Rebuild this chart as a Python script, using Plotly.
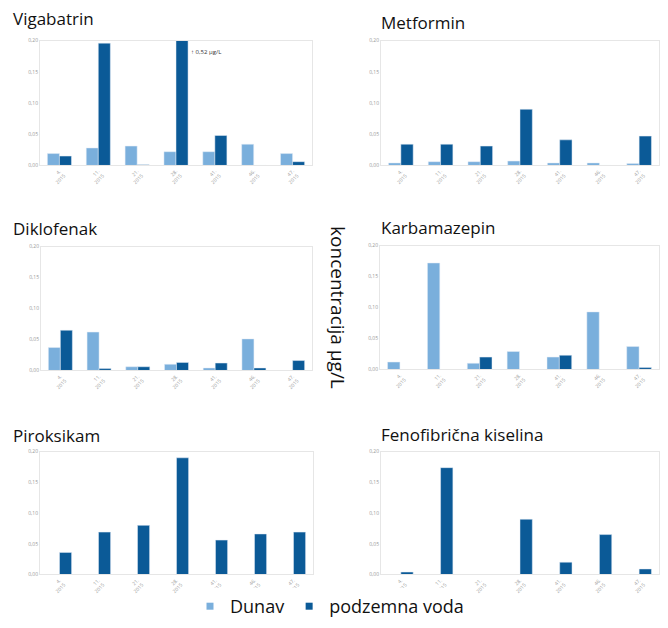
import plotly.graph_objects as go
from plotly.subplots import make_subplots

categories = ["4.<br>2015", "11.<br>2015", "21.<br>2015", "28.<br>2015", "41.<br>2015", "46.<br>2015", "47.<br>2015"]
tick_vals = [0.0, 0.05, 0.10, 0.15, 0.20]
tick_text = ["0,00", "0,05", "0,10", "0,15", "0,20"]

titles = ["Vigabatrin", "Metformin", "Diklofenak", "Karbamazepin", "Piroksikam", "Fenofibrična kiselina"]

dunav = {
    "Vigabatrin": [0.019, 0.028, 0.031, 0.022, 0.022, 0.034, 0.019],
    "Metformin": [0.004, 0.006, 0.006, 0.007, 0.004, 0.004, 0.003],
    "Diklofenak": [0.037, 0.062, 0.006, 0.010, 0.004, 0.051, 0.0],
    "Karbamazepin": [0.012, 0.172, 0.010, 0.029, 0.020, 0.093, 0.037],
    "Piroksikam": [0, 0, 0, 0, 0, 0, 0],
    "Fenofibrična kiselina": [0, 0, 0, 0, 0, 0, 0],
}
podzemna = {
    "Vigabatrin": [0.015, 0.196, 0.001, 0.52, 0.048, 0.0, 0.006],
    "Metformin": [0.034, 0.034, 0.031, 0.090, 0.041, 0.0, 0.047],
    "Diklofenak": [0.065, 0.003, 0.006, 0.013, 0.012, 0.004, 0.016],
    "Karbamazepin": [0.0, 0.0, 0.020, 0.0, 0.023, 0.0, 0.003],
    "Piroksikam": [0.036, 0.069, 0.080, 0.190, 0.056, 0.066, 0.069],
    "Fenofibrična kiselina": [0.004, 0.174, 0.0, 0.090, 0.020, 0.065, 0.009],
}

C_DUNAV = "#7aafdc"
C_POD = "#0b5a97"
W, H = 668, 628

fig = make_subplots(rows=3, cols=2)

# pixel boxes of plot areas: (x0, x1, ytop, ybottom)
boxes = [(40, 312, 38, 164), (381, 659, 38, 164),
         (41, 312, 246, 371), (380, 659, 245, 370),
         (40, 313, 453, 577), (381, 659, 453, 577)]
title_pos = [(11, 16), (379, 20), (11, 228), (379, 227), (11, 437), (379, 436)]

for i, name in enumerate(titles):
    r, c = i // 2 + 1, i % 2 + 1
    fig.add_trace(go.Bar(x=categories, y=dunav[name], name="Dunav", marker_color=C_DUNAV,
                         showlegend=False), row=r, col=c)
    fig.add_trace(go.Bar(x=categories, y=podzemna[name], name="podzemna voda", marker_color=C_POD,
                         showlegend=False), row=r, col=c)
    x0, x1, yt, yb = boxes[i]
    ax = "" if i == 0 else str(i + 1)
    fig.layout["xaxis" + ax].domain = [x0 / W, x1 / W]
    fig.layout["yaxis" + ax].domain = [1 - yb / H, 1 - yt / H]
    tx, ty = title_pos[i]
    fig.add_annotation(text=name, xref="paper", yref="paper", x=tx / W, y=1 - ty / H,
                       xanchor="left", yanchor="middle", showarrow=False,
                       font=dict(size=17, color="#111", family="Open Sans"))

# legend-only entries with small square symbols
for nm, col in [("Dunav", C_DUNAV), ("podzemna voda", C_POD)]:
    fig.add_trace(go.Scatter(x=[None], y=[None], mode="markers", name=nm,
                             marker=dict(symbol="square", size=7, color=col), showlegend=True),
                  row=1, col=1)

fig.update_xaxes(showgrid=False, tickangle=-45, tickfont=dict(size=5, color="#999"),
                 showline=True, linecolor="#e6e6e6", mirror=True, ticks="")
fig.update_yaxes(range=[0, 0.2], tickvals=tick_vals, ticktext=tick_text, showgrid=False,
                 zeroline=False, tickfont=dict(size=5, color="#999"),
                 showline=True, linecolor="#e6e6e6", mirror=True, ticks="")

fig.add_annotation(text="↑ 0,52 µg/L", xref="x", yref="y", x=3, y=0.181, xshift=13,
                   xanchor="left", yanchor="middle", showarrow=False,
                   font=dict(size=6, color="#333", family="Open Sans"))

fig.add_annotation(text="koncentracija µg/L", xref="paper", yref="paper", x=338 / W, y=1 - 307 / H,
                   textangle=90, showarrow=False, xanchor="center", yanchor="middle",
                   font=dict(size=19, color="#111", family="Open Sans"))

fig.update_layout(width=W, height=H, margin=dict(l=0, r=0, t=0, b=0),
                  plot_bgcolor="white", paper_bgcolor="white",
                  barmode="group", bargap=0.38, bargroupgap=0.0,
                  font=dict(family="Open Sans"),
                  legend=dict(orientation="h", x=190 / W, y=0, xanchor="left", yanchor="bottom",
                              font=dict(size=18, color="#111"), itemwidth=30, tracegroupgap=0))

fig.write_html("out.html", config={"displayModeBar": False},
               post_script="document.body.style.margin='0';document.body.style.overflow='hidden';")
